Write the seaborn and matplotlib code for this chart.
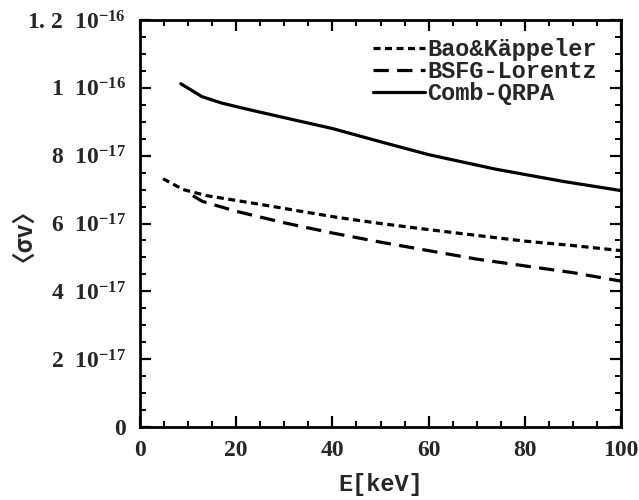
import matplotlib
matplotlib.use("Agg")
import matplotlib.pyplot as plt
import numpy as np
import pandas as pd
import seaborn as sns
from matplotlib.ticker import MultipleLocator

sns.set_style("ticks")
plt.rcParams['font.family'] = ['Liberation Serif', 'DejaVu Sans']
plt.rcParams['font.weight'] = 'bold'
plt.rcParams['mathtext.fontset'] = 'custom'
plt.rcParams['mathtext.rm'] = 'Liberation Serif:bold'
plt.rcParams['mathtext.it'] = 'Liberation Serif:bold'
plt.rcParams['mathtext.bf'] = 'Liberation Serif:bold'

# values, <sigma v> in units of 1e-17
bao_E = [4.8, 9, 13.9, 20, 27.7, 32.6, 41, 50, 60, 67, 80, 90, 100]
bao_sv = [7.32, 7.0, 6.82, 6.68, 6.5, 6.38, 6.18, 6.0, 5.82, 5.70, 5.48, 5.35, 5.2]

bsfg_E = [11, 13, 20, 30, 40, 50, 60, 70, 80, 90, 100]
bsfg_sv = [6.82, 6.65, 6.36, 6.02, 5.72, 5.45, 5.2, 4.95, 4.75, 4.55, 4.3]

qrpa_E = [8.5, 12.9, 17, 22.9, 30, 40, 50, 60, 74, 88, 100]
qrpa_sv = [10.12, 9.74, 9.55, 9.35, 9.12, 8.80, 8.41, 8.03, 7.60, 7.24, 6.97]

labels = ["Bao&Käppeler", "BSFG-Lorentz", "Comb-QRPA"]
ytick_vals = [0, 2e-17, 4e-17, 6e-17, 8e-17, 1e-16, 1.2e-16]
ytick_text = ["0", r"2  $10^{-17}$", r"4  $10^{-17}$", r"6  $10^{-17}$",
              r"8  $10^{-17}$", r"1  $10^{-16}$", r"1. 2  $10^{-16}$"]

df = pd.concat([
    pd.DataFrame({"E": bao_E, "sv": np.array(bao_sv) * 1e-17, "model": labels[0]}),
    pd.DataFrame({"E": bsfg_E, "sv": np.array(bsfg_sv) * 1e-17, "model": labels[1]}),
    pd.DataFrame({"E": qrpa_E, "sv": np.array(qrpa_sv) * 1e-17, "model": labels[2]}),
])

fig = plt.figure(figsize=(6.39, 5.0), dpi=100)
ax = fig.add_axes([0.219, 0.146, 0.753, 0.814])

sns.lineplot(data=df, x="E", y="sv", style="model", hue="model",
             palette=["black"] * 3,
             dashes={labels[0]: (2.2, 1.4), labels[1]: (4.8, 2.6), labels[2]: ""},
             linewidth=2.3, ax=ax, sort=False)

ax.set_xlim(0, 100)
ax.set_ylim(0, 1.2e-16)
ax.xaxis.set_major_locator(MultipleLocator(20))
ax.xaxis.set_minor_locator(MultipleLocator(5))
ax.set_yticks(ytick_vals)
ax.set_yticklabels(ytick_text)
ax.yaxis.set_minor_locator(MultipleLocator(0.5e-17))
ax.tick_params(which="both", direction="in", top=True, right=True, width=1.6,
               labelsize=17, color="black")
ax.tick_params(axis="y", pad=10)
ax.tick_params(axis="x", pad=9)
ax.tick_params(which="major", length=8)
ax.tick_params(which="minor", length=4.5, width=1.4)
for s in ax.spines.values():
    s.set_linewidth(2)
    s.set_color("black")

ax.set_xlabel("E[keV]", fontsize=17, family=['Liberation Mono', 'DejaVu Sans'],
              fontweight='bold', labelpad=9)
ax.set_ylabel("〈σv〉", fontsize=17, family=['Noto Sans CJK JP', 'DejaVu Sans'],
              fontweight='bold', labelpad=2)

leg = ax.legend(loc="upper left", bbox_to_anchor=(0.485, 0.955), frameon=False,
                borderpad=0, borderaxespad=0,
                handlelength=2.2, handletextpad=0.1, labelspacing=-0.05,
                prop={'family': ['Liberation Mono', 'DejaVu Sans'],
                      'weight': 'bold', 'size': 17})

fig.savefig("out.png", dpi=100)
